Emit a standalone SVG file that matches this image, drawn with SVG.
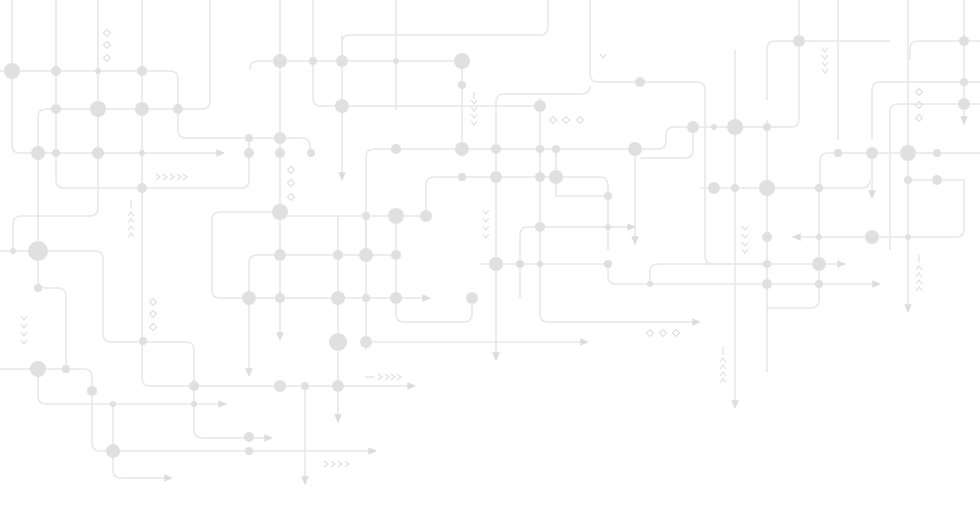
<svg xmlns="http://www.w3.org/2000/svg" width="980" height="514" viewBox="0 0 980 514">
<style>
.w{fill:none;stroke:#e8e8e8;stroke-width:1.6}
.d circle{fill:#e0e0e0}
.m{fill:none;stroke:#e0e0e0;stroke-width:1.2}
</style>
<defs>
<marker id="a" viewBox="0 0 10 10" refX="8" refY="5" markerWidth="6" markerHeight="6" orient="auto-start-reverse"><path d="M0 1 L9 5 L0 9z" fill="#dcdcdc"/></marker>
<path id="dm" d="M0 -3.5 L3.5 0 L0 3.5 L-3.5 0z" class="m"/>
<path id="cr" d="M-2 -3 L2 0 L-2 3" class="m"/>
<path id="cd" d="M-3 -2 L0 2 L3 -2" class="m"/>
</defs>
<rect width="980" height="514" fill="#fff"/>
<g id="connectors">
<path class="w" d="M0 71 H170 Q178 71 178 79 V130 Q178 138 186 138 H302 Q310 138 310 146 V153"/>
<path class="w" d="M210 0 V101 Q210 109 202 109 H46 Q38 109 38 117 V280 Q38 288 46 288 H58 Q66 288 66 296 V369"/>
<path class="w" marker-end="url(#a)" d="M12 0 V145 Q12 153 20 153 H224"/>
<path class="w" d="M56 0 V180 Q56 188 64 188 H241 Q249 188 249 180 V138"/>
<path class="w" d="M98 0 V208 Q98 216 90 216 H21 Q13 216 13 224 V251"/>
<path class="w" d="M0 251 H95 Q103 251 103 259 V334 Q103 342 111 342 H186 Q194 342 194 350 V404"/>
<path class="w" marker-end="url(#a)" d="M142 0 V378 Q142 386 150 386 H415"/>
<path class="w" d="M0 369 H84 Q92 369 92 377 V443 Q92 451 100 451 H376" marker-end="url(#a)"/>
<path class="w" marker-end="url(#a)" d="M38 369 V396 Q38 404 46 404 H226"/>
<path class="w" marker-end="url(#a)" d="M113 404 V470 Q113 478 121 478 H172"/>
<path class="w" marker-end="url(#a)" d="M194 404 V430 Q194 438 202 438 H272"/>
<path class="w" marker-end="url(#a)" d="M280 0 V340"/>
<path class="w" marker-end="url(#a)" d="M249 298 V376"/>
<path class="w" d="M313 0 V98 Q313 106 321 106 H540"/>
<path class="w" marker-end="url(#a)" d="M342 35 V180"/>
<path class="w" d="M342 43 Q342 35 350 35 H540 Q548 35 548 27 V0"/>
<path class="w" d="M250 70 Q250 61 258 61 H470"/>
<path class="w" d="M396 0 V110"/>
<path class="w" d="M462 61 V149"/>
<path class="w" d="M366 350 V157 Q366 149 374 149 H658 Q666 149 666 141 V135 Q666 127 674 127 H767"/>
<path class="w" d="M608 250 V185 Q608 177 600 177 H434 Q426 177 426 185 V216"/>
<path class="w" d="M280 212 H220 Q212 212 212 220 V290 Q212 298 220 298 H430" marker-end="url(#a)"/>
<path class="w" d="M249 298 V263 Q249 255 257 255 H396"/>
<path class="w" d="M274 216 H426"/>
<path class="w" marker-end="url(#a)" d="M366 342 H588"/>
<path class="w" marker-end="url(#a)" d="M338 216 V422"/>
<path class="w" marker-end="url(#a)" d="M305 386 V484"/>
<path class="w" d="M396 216 V314 Q396 322 404 322 H464 Q472 322 472 314 V298"/>
<path class="w" marker-start="url(#a)" d="M496 360 V102 Q496 94 504 94 H582 Q590 94 590 86"/>
<path class="w" d="M590 0 V74 Q590 82 598 82 H697 Q705 82 705 90 V256 Q705 264 713 264 H767"/>
<path class="w" marker-end="url(#a)" d="M520 298 V235 Q520 227 528 227 H635"/>
<path class="w" marker-end="url(#a)" d="M635 149 V244"/>
<path class="w" marker-end="url(#a)" d="M540 98 V314 Q540 322 548 322 H700"/>
<path class="w" d="M480 264 H608"/>
<path class="w" marker-end="url(#a)" d="M608 264 V276 Q608 284 616 284 H880"/>
<path class="w" marker-end="url(#a)" d="M650 284 V272 Q650 264 658 264 H845"/>
<path class="w" marker-end="url(#a)" d="M735 50 V408"/>
<path class="w" d="M767 120 V372"/>
<path class="w" d="M799 0 V119 Q799 127 791 127 H767"/>
<path class="w" d="M767 100 V49 Q767 41 775 41 H890"/>
<path class="w" d="M910 60 V49 Q910 41 918 41 H980"/>
<path class="w" d="M838 0 V140"/>
<path class="w" d="M872 140 V90 Q872 82 880 82 H980"/>
<path class="w" d="M890 250 V112 Q890 104 898 104 H980"/>
<path class="w" d="M820 188 V161 Q820 153 828 153 H980"/>
<path class="w" marker-end="url(#a)" d="M908 0 V312"/>
<path class="w" marker-end="url(#a)" d="M964 0 V124"/>
<path class="w" marker-end="url(#a)" d="M872 153 V198"/>
<path class="w" d="M700 188 H862 Q870 188 870 180"/>
<path class="w" marker-start="url(#a)" d="M793 237 H956 Q964 237 964 229 V180 H908"/>
<path class="w" d="M819 188 V300 Q819 308 811 308 H767"/>
<path class="w" d="M693 127 V150 Q693 158 685 158 H640"/>
<path class="w" d="M366 255 V216"/>
<path class="w" d="M556 149 V196 H608"/>
</g>
<g id="dots" class="d">
<circle cx="12" cy="71" r="8"/><circle cx="56" cy="71" r="5"/><circle cx="142" cy="71" r="5"/><circle cx="98" cy="71" r="3"/>
<circle cx="98" cy="109" r="8"/><circle cx="142" cy="109" r="7"/><circle cx="56" cy="109" r="5"/><circle cx="178" cy="109" r="5"/>
<circle cx="38" cy="153" r="7"/><circle cx="56" cy="153" r="4"/><circle cx="98" cy="153" r="6"/><circle cx="142" cy="153" r="3"/>
<circle cx="142" cy="188" r="5"/><circle cx="38" cy="251" r="10"/><circle cx="13" cy="251" r="3"/><circle cx="38" cy="288" r="4"/>
<circle cx="38" cy="369" r="8"/><circle cx="66" cy="369" r="4"/><circle cx="92" cy="391" r="5"/><circle cx="113" cy="404" r="3"/>
<circle cx="113" cy="451" r="7"/><circle cx="143" cy="341" r="4"/><circle cx="194" cy="386" r="5"/><circle cx="194" cy="404" r="3"/>
<circle cx="249" cy="437" r="5"/><circle cx="249" cy="451" r="4"/><circle cx="280" cy="386" r="6"/><circle cx="305" cy="386" r="4"/>
<circle cx="338" cy="386" r="6"/><circle cx="338" cy="342" r="9"/><circle cx="366" cy="342" r="6"/>
<circle cx="280" cy="61" r="7"/><circle cx="313" cy="61" r="4"/><circle cx="342" cy="61" r="6"/><circle cx="396" cy="61" r="3"/><circle cx="462" cy="61" r="8"/><circle cx="462" cy="85" r="4"/>
<circle cx="342" cy="106" r="7"/><circle cx="249" cy="138" r="4"/><circle cx="280" cy="138" r="6"/><circle cx="249" cy="153" r="5"/><circle cx="280" cy="153" r="5"/><circle cx="311" cy="153" r="4"/>
<circle cx="280" cy="212" r="8"/><circle cx="280" cy="255" r="6"/><circle cx="280" cy="298" r="5"/><circle cx="249" cy="298" r="7"/>
<circle cx="338" cy="255" r="5"/><circle cx="366" cy="255" r="7"/><circle cx="396" cy="255" r="5"/><circle cx="338" cy="298" r="7"/><circle cx="366" cy="298" r="4"/><circle cx="396" cy="298" r="6"/>
<circle cx="366" cy="216" r="4"/><circle cx="396" cy="216" r="8"/><circle cx="426" cy="216" r="6"/><circle cx="396" cy="149" r="5"/>
<circle cx="462" cy="149" r="7"/><circle cx="496" cy="149" r="5"/><circle cx="540" cy="149" r="4"/><circle cx="556" cy="149" r="4"/>
<circle cx="462" cy="177" r="4"/><circle cx="496" cy="177" r="6"/><circle cx="540" cy="177" r="5"/><circle cx="556" cy="177" r="7"/>
<circle cx="540" cy="106" r="6"/><circle cx="496" cy="264" r="7"/><circle cx="520" cy="264" r="4"/><circle cx="540" cy="264" r="3"/>
<circle cx="540" cy="227" r="5"/><circle cx="608" cy="196" r="4"/><circle cx="608" cy="227" r="3"/><circle cx="608" cy="264" r="4"/><circle cx="650" cy="284" r="3"/>
<circle cx="472" cy="298" r="6"/><circle cx="635" cy="149" r="7"/><circle cx="640" cy="82" r="5"/>
<circle cx="693" cy="127" r="6"/><circle cx="714" cy="127" r="3"/><circle cx="735" cy="127" r="8"/><circle cx="767" cy="127" r="4"/><circle cx="799" cy="41" r="6"/>
<circle cx="714" cy="188" r="6"/><circle cx="735" cy="188" r="4"/><circle cx="767" cy="188" r="8"/><circle cx="819" cy="188" r="4"/>
<circle cx="767" cy="237" r="5"/><circle cx="767" cy="264" r="4"/><circle cx="819" cy="264" r="7"/><circle cx="767" cy="284" r="5"/><circle cx="819" cy="284" r="4"/>
<circle cx="872" cy="237" r="7"/><circle cx="908" cy="237" r="3"/><circle cx="819" cy="237" r="3"/>
<circle cx="838" cy="153" r="4"/><circle cx="872" cy="153" r="6"/><circle cx="908" cy="153" r="8"/><circle cx="937" cy="153" r="4"/>
<circle cx="908" cy="180" r="4"/><circle cx="937" cy="180" r="5"/><circle cx="964" cy="82" r="4"/><circle cx="964" cy="104" r="6"/><circle cx="964" cy="41" r="5"/>
</g>
<g id="marks">
<use href="#dm" x="107" y="33"/><use href="#dm" x="107" y="45"/><use href="#dm" x="107" y="58"/>
<use href="#dm" x="291" y="170"/><use href="#dm" x="291" y="183"/><use href="#dm" x="291" y="197"/>
<use href="#dm" x="153" y="302"/><use href="#dm" x="153" y="314"/><use href="#dm" x="153" y="327"/>
<use href="#dm" x="553" y="120"/><use href="#dm" x="566" y="120"/><use href="#dm" x="580" y="120"/>
<use href="#dm" x="650" y="333"/><use href="#dm" x="663" y="333"/><use href="#dm" x="676" y="333"/>
<use href="#dm" x="919" y="92"/><use href="#dm" x="919" y="105"/><use href="#dm" x="919" y="118"/>
<use href="#cr" x="158" y="177"/><use href="#cr" x="165" y="177"/><use href="#cr" x="172" y="177"/><use href="#cr" x="179" y="177"/><use href="#cr" x="185" y="177"/>
<path class="m" d="M365 377 H374"/><use href="#cr" x="380" y="377"/><use href="#cr" x="387" y="377"/><use href="#cr" x="393" y="377"/><use href="#cr" x="399" y="377"/>
<use href="#cr" x="326" y="464"/><use href="#cr" x="333" y="464"/><use href="#cr" x="340" y="464"/><use href="#cr" x="347" y="464"/>
<use href="#cd" x="474" y="102"/><use href="#cd" x="474" y="109"/><use href="#cd" x="474" y="116"/><use href="#cd" x="474" y="123"/><path class="m" d="M474 92 V99"/>
<use href="#cd" x="486" y="212"/><use href="#cd" x="486" y="220"/><use href="#cd" x="486" y="228"/><use href="#cd" x="486" y="236"/>
<use href="#cd" x="24" y="318"/><use href="#cd" x="24" y="326"/><use href="#cd" x="24" y="334"/><use href="#cd" x="24" y="342"/>
<use href="#cd" x="745" y="228"/><use href="#cd" x="745" y="236"/><use href="#cd" x="745" y="244"/><use href="#cd" x="745" y="251"/>
<use href="#cd" x="825" y="50"/><use href="#cd" x="825" y="57"/><use href="#cd" x="825" y="64"/><use href="#cd" x="825" y="71"/>
<use href="#cd" x="603" y="56"/>
<g transform="translate(131 0) scale(1 -1)"><use href="#cd" x="0" y="-214"/><use href="#cd" x="0" y="-221"/><use href="#cd" x="0" y="-228"/><use href="#cd" x="0" y="-235"/></g><path class="m" d="M131 200 V208"/>
<g transform="translate(723 0) scale(1 -1)"><use href="#cd" x="0" y="-360"/><use href="#cd" x="0" y="-367"/><use href="#cd" x="0" y="-374"/><use href="#cd" x="0" y="-381"/></g><path class="m" d="M723 347 V355"/>
<g transform="translate(919 0) scale(1 -1)"><use href="#cd" x="0" y="-268"/><use href="#cd" x="0" y="-275"/><use href="#cd" x="0" y="-282"/><use href="#cd" x="0" y="-289"/></g><path class="m" d="M919 255 V263"/>
</g>
</svg>
